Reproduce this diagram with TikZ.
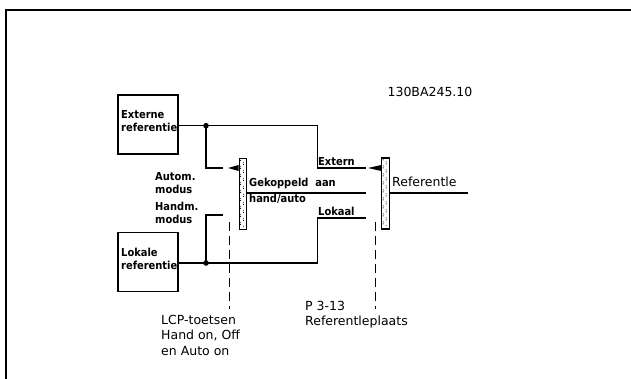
\documentclass[tikz,border=0pt]{standalone}
\usepackage{fontspec}
\setmainfont{DejaVu Sans}
\newfontfamily\labfont{DejaVu Sans Condensed Bold}
\begin{document}
\begin{tikzpicture}[x=1pt,y=-1pt,
  wire/.style={line width=1.5pt},
  refbox/.style={draw,line width=1.5pt,minimum width=60pt,minimum height=59pt,inner sep=0pt},
  swbar/.style={draw,line width=1.3pt,fill=white,minimum width=7.5pt,minimum height=71pt,inner sep=0pt},
  lab/.style={font=\labfont\fontsize{11}{13}\selectfont,inner sep=0pt,anchor=west},
  big/.style={font=\fontsize{12.5}{15.5}\selectfont,inner sep=0pt,anchor=north west,align=left},
  dashline/.style={line width=1.5pt,dash pattern=on 9pt off 5pt},
  lever/.style={fill=black}]
\useasboundingbox (0,0) rectangle (631,379);
\draw[line width=2pt] (6,379) -- (6,10) -- (632,10);

% boxes
\node[refbox] (ext) at (148,124.5) {};
\node[lab,anchor=north west,align=left] (extt) at (121,110) {Externe\\referentie};
\node[refbox] (lok) at (148,262) {};
\node[lab,anchor=north west,align=left] (lokt) at (121,247.5) {Lokale\\referentie};

% switch bars
\node[swbar] (sw1) at (243,194) {};
\node[swbar] (sw2) at (385.5,193.5) {};
\foreach \b in {sw1,sw2}{
  \foreach \k in {0,...,16}{
    \pgfmathsetmacro{\yy}{2.5+4*\k}
    \pgfmathsetmacro{\xx}{mod(\k,2)==0 ? 2 : 5}
    \fill ([xshift=\xx pt,yshift=-\yy pt]\b.north west) circle (0.6pt);
    \pgfmathsetmacro{\xb}{mod(\k,2)==0 ? 5 : 2.2}
    \fill ([xshift=\xb pt,yshift=-\yy pt-2pt]\b.north west) circle (0.5pt);
  }
}

% junctions
\coordinate (j1) at (206,125.7);
\coordinate (j2) at (206,263);
\coordinate (c1) at (223,168);
\coordinate (c2) at (223,215);
\coordinate (e1) at (317.5,168);
\coordinate (e2) at (366,168);
\coordinate (l1) at (317.5,218);
\coordinate (l2) at (366,218);
\coordinate (g2) at (366,193);
\coordinate (out) at (468,193);

\draw[wire] (ext.east |- j1) -- (j1) -- (e1 |- j1) -- (e1) -- (e2);
\draw[wire] (j1) |- (c1);
\draw[wire] (lok.east |- j2) -- (j2) -- (l1 |- j2) -- (l1) -- (l2);
\draw[wire] (j2) |- (c2);
\draw[wire] (sw1.east |- g2) -- (g2);
\draw[wire] (sw2.east |- out) -- (out);
\fill (j1) circle (2.8pt);
\fill (j2) circle (2.8pt);

% levers
\fill[lever] (228,168) -- (sw1.west |- 0,165) -- (sw1.west |- 0,171) -- cycle;
\fill[lever] (368,168) -- (sw2.west |- 0,165) -- (sw2.west |- 0,171) -- cycle;

% dashed
\coordinate (d1t) at (229.5,222);
\coordinate (d1b) at (229.5,309);
\coordinate (d2t) at (375.5,222);
\coordinate (d2b) at (375.5,309);
\draw[dashline] (d1t) -- (d1b);
\draw[dashline] (d2t) -- (d2b);

% labels
\node[lab,anchor=north west,align=left] (auto) at (155,172) {Autom.\\modus};
\node[lab,anchor=north west,align=left] (hand) at (155,202) {Handm.\\modus};
\node[lab,anchor=south west] (gek) at (249,189) {Gekoppeld\ \ aan};
\node[lab,anchor=north west] (ha) at (249,194) {hand/auto};
\node[lab,anchor=south west] (extl) at (318,165.5) {Extern};
\node[lab,anchor=south west] (lokl) at (318,215.5) {Lokaal};
\node[font=\fontsize{12.5}{15}\selectfont,inner sep=0pt,anchor=west] (reft) at (392,182) {Referentle};
\node[font=\fontsize{12.5}{15}\selectfont,inner sep=0pt] (code) at (430,92) {130BA245.10};
\node[big] (lcp) at (161,315) {LCP-toetsen\\Hand on, Off\\en Auto on};
\node[big] (par) at (305,301) {P 3-13\\Referentleplaats};
\end{tikzpicture}
\end{document}
